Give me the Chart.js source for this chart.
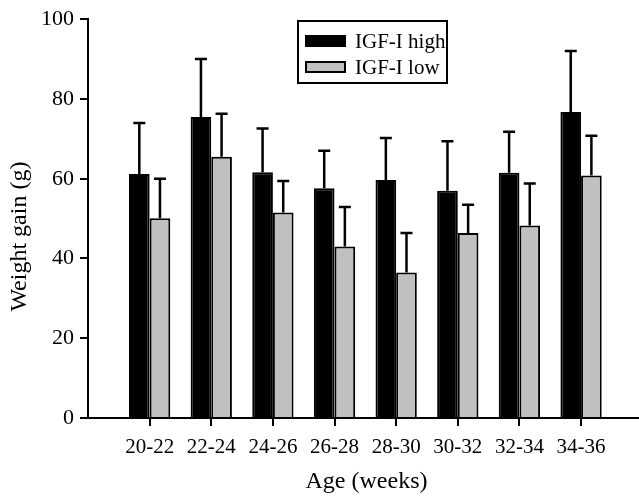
<!DOCTYPE html>
<html>
<head>
<meta charset="utf-8">
<script src="https://cdn.jsdelivr.net/npm/chart.js@4"></script>
<style>
  html, body { margin: 0; padding: 0; background: #fff; }
  #wrap { width: 639px; height: 497px; position: relative; }
</style>
</head>
<body>
<div id="wrap"><canvas id="gainChart"></canvas></div>
<script>
// data
const ageGroups = ['20-22', '22-24', '24-26', '26-28', '28-30', '30-32', '32-34', '34-36'];
const highMean = [61.2, 75.5, 61.6, 57.6, 59.7, 57.0, 61.5, 76.7];
const highSd = [12.8, 14.5, 11.0, 9.4, 10.5, 12.4, 10.3, 15.3];
const lowMean = [50.1, 65.5, 51.5, 43.0, 36.5, 46.4, 48.3, 60.8];
const lowSd = [9.9, 10.8, 7.9, 9.9, 9.9, 7.1, 10.5, 10.0];
const yTicks = [0, 20, 40, 60, 80, 100];

const serif = "'Liberation Serif', 'Times New Roman', serif";
const errors = [highSd, lowSd];

// upward-only error bars
const errorBars = {
  id: 'errorBars',
  afterDatasetsDraw(chart) {
    const ctx = chart.ctx;
    const y = chart.scales.y;
    ctx.save();
    ctx.strokeStyle = '#000';
    ctx.lineWidth = 2.5;
    chart.data.datasets.forEach((ds, d) => {
      const meta = chart.getDatasetMeta(d);
      meta.data.forEach((bar, i) => {
        const top = y.getPixelForValue(ds.data[i].y + errors[d][i]);
        ctx.beginPath();
        ctx.moveTo(bar.x, bar.y);
        ctx.lineTo(bar.x, top);
        ctx.moveTo(bar.x - 6, top);
        ctx.lineTo(bar.x + 6, top);
        ctx.stroke();
      });
    });
    ctx.restore();
  }
};

// boxed legend in the top middle
const boxLegend = {
  id: 'boxLegend',
  afterDraw(chart) {
    const ctx = chart.ctx;
    ctx.save();
    ctx.lineWidth = 2;
    ctx.strokeStyle = '#000';
    ctx.strokeRect(298, 21, 149, 62);
    ctx.font = '21px ' + serif;
    ctx.textBaseline = 'middle';
    ctx.fillStyle = '#000';
    chart.data.datasets.forEach((ds, d) => {
      const cy = 41 + d * 26;
      ctx.fillStyle = ds.backgroundColor;
      ctx.fillRect(305, cy - 6, 41, 12);
      ctx.strokeRect(306, cy - 5, 39, 10);
      ctx.fillStyle = '#000';
      ctx.fillText(ds.label, 355, cy + 1);
    });
    ctx.restore();
  }
};

const ctx = document.getElementById('gainChart').getContext('2d');
new Chart(ctx, {
  type: 'bar',
  data: {
    datasets: [{
      label: 'IGF-I high',
      data: highMean.map((v, i) => ({ x: i + 1, y: v })),
      backgroundColor: '#000000',
      borderColor: '#000000',
      borderWidth: 2
    }, {
      label: 'IGF-I low',
      data: lowMean.map((v, i) => ({ x: i + 1, y: v })),
      backgroundColor: '#c0c0c0',
      borderColor: '#000000',
      borderWidth: 2
    }]
  },
  options: {
    responsive: true,
    maintainAspectRatio: false,
    animation: false,
    categoryPercentage: 0.67,
    barPercentage: 1.0,
    layout: { padding: { top: 19, right: 0, left: 0, bottom: 0 } },
    plugins: {
      legend: { display: false },
      tooltip: { enabled: false }
    },
    scales: {
      x: {
        type: 'linear',
        offset: false,
        min: 0,
        max: 8.94,
        afterBuildTicks: (scale) => {
          scale.ticks = ageGroups.map((_, i) => ({ value: i + 1 }));
        },
        afterFit: (scale) => { scale.height = 79; },
        ticks: {
          callback: (v) => ageGroups[v - 1] || '',
          color: '#000',
          font: { family: serif, size: 21 },
          padding: 9,
          maxRotation: 0,
          autoSkip: false
        },
        grid: {
          offset: false,
          drawOnChartArea: false,
          drawTicks: true,
          tickLength: 8,
          tickColor: '#000',
          tickWidth: 2,
          color: '#000',
          lineWidth: 2
        },
        border: { display: true, color: '#000', width: 2 },
        title: {
          display: true,
          text: ' Age (weeks)',
          color: '#000',
          font: { family: serif, size: 24 },
          padding: { top: 0, bottom: 1 }
        }
      },
      y: {
        min: 0,
        max: 100,
        afterBuildTicks: (scale) => {
          scale.ticks = yTicks.map(v => ({ value: v }));
        },
        afterFit: (scale) => { scale.width = 88; },
        ticks: {
          color: '#000',
          font: { family: serif, size: 22 },
          padding: 6
        },
        grid: {
          drawOnChartArea: false,
          drawTicks: true,
          tickLength: 8,
          tickColor: '#000',
          tickWidth: 2,
          color: '#000',
          lineWidth: 2
        },
        border: { display: true, color: '#000', width: 2 },
        title: {
          display: true,
          text: 'Weight gain (g)      ',
          color: '#000',
          font: { family: serif, size: 24 },
          padding: { top: 5, bottom: 0 }
        }
      }
    }
  },
  plugins: [errorBars, boxLegend]
});
</script>
</body>
</html>
